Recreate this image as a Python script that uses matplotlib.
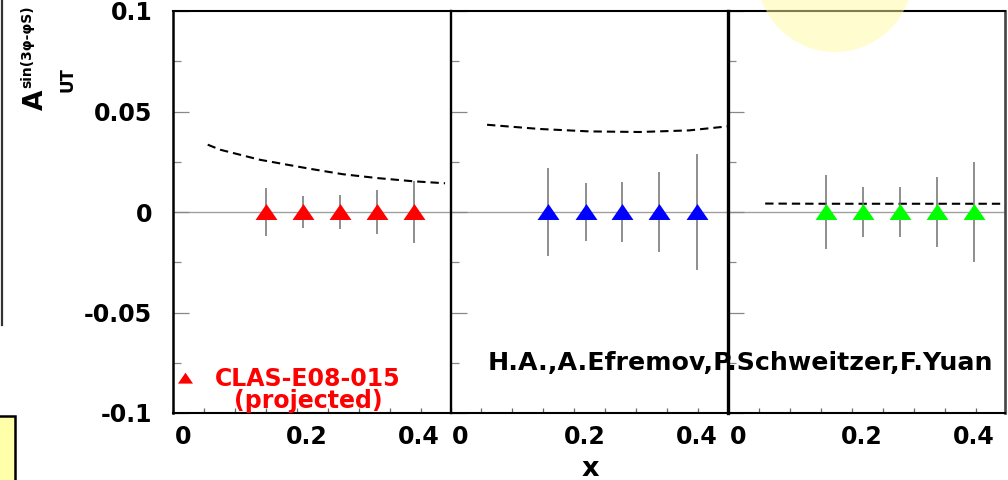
import matplotlib
matplotlib.use("Agg")
import matplotlib.pyplot as plt
from matplotlib.patches import Ellipse, Rectangle
from matplotlib.lines import Line2D
from matplotlib.ticker import MultipleLocator
from matplotlib.transforms import ScaledTranslation

plt.rcParams["font.family"] = ["DejaVu Sans"]

# Projected sin(3phi-phiS) asymmetry points, one panel per colour
x_red = [0.150, 0.210, 0.270, 0.329, 0.389]
x_blue = [0.158, 0.218, 0.277, 0.337, 0.397]
x_green = [0.158, 0.218, 0.277, 0.337, 0.397]
a_red = [0.0, 0.0, 0.0, 0.0, 0.0]
a_blue = [0.0, 0.0, 0.0, 0.0, 0.0]
a_green = [0.0, 0.0, 0.0, 0.0, 0.0]
err_red = [0.0117, 0.0080, 0.0083, 0.0108, 0.0155]
err_blue = [0.0221, 0.0143, 0.0147, 0.0197, 0.0290]
err_green = [0.0182, 0.0122, 0.0126, 0.0172, 0.0251]

# Model predictions (dashed curves)
model_x_red = [0.056, 0.076, 0.140, 0.221, 0.274, 0.329, 0.387, 0.439]
model_y_red = [0.0335, 0.0310, 0.0260, 0.0215, 0.0188, 0.0169, 0.0153, 0.0143]
model_x_blue = [0.059, 0.144, 0.224, 0.305, 0.385, 0.447]
model_y_blue = [0.0434, 0.0413, 0.0401, 0.0398, 0.0406, 0.0426]
model_x_green = [0.060, 0.150, 0.250, 0.350, 0.447]
model_y_green = [0.0042, 0.0041, 0.0041, 0.0041, 0.0041]

x_ticks = [0.0, 0.2, 0.4]
x_ticklabels = ["0", "0.2", "0.4"]
y_ticks = [-0.1, -0.05, 0, 0.05, 0.1]
y_ticklabels = ["-0.1", "-0.05", "0", "0.05", "0.1"]

W, H = 1008, 480


def fx(p):
    return p / W


def fy(p):
    return 1 - p / H


# flat, wide triangle marker (ROOT style 22)
TRI = [(-11, -7.5), (11, -7.5), (0, 8.5), (-11, -7.5)]

fig = plt.figure(figsize=(W / 100, H / 100), dpi=100)
fig.patch.set_facecolor("white")

panels = [
    (173, x_red, a_red, err_red, model_x_red, model_y_red, "#ff0000", 1.8),
    (450.5, x_blue, a_blue, err_blue, model_x_blue, model_y_blue, "#0000ff", 1.7),
    (728, x_green, a_green, err_green, model_x_green, model_y_green, "#00ff00", 2.4),
]

axes = []
for i, (left, xs, ys, es, mx, my, col, lw_left) in enumerate(panels):
    ax = fig.add_axes([fx(left), fy(413), 277 / W, 402 / H])
    ax.set_facecolor("none")
    ax.set_xlim(0, 0.447)
    ax.set_ylim(-0.1, 0.1)

    ax.axhline(0, color="#a0a0a0", lw=1.0, zorder=1)
    ax.plot(mx, my, color="black", lw=1.5, ls=(0, (4, 2.4)), zorder=2)
    ax.errorbar(xs, ys, yerr=es, fmt="none", ecolor="#707070", elinewidth=1.1,
                capsize=0, zorder=3)
    ax.plot(xs, ys, ls="none", marker=TRI, ms=15.8, color=col,
            markeredgewidth=0, zorder=4)

    for s in ax.spines.values():
        s.set_color("black")
        s.set_linewidth(1.5)
    ax.spines["left"].set_linewidth(lw_left)
    if i < 2:
        ax.spines["right"].set_visible(False)
    else:
        ax.spines["right"].set_color("#444444")
        ax.spines["right"].set_linewidth(1.9)

    ax.yaxis.set_minor_locator(MultipleLocator(0.025))
    ax.xaxis.set_minor_locator(MultipleLocator(0.05))
    ax.set_xticks(x_ticks, x_ticklabels)
    ax.set_yticks(y_ticks, y_ticklabels)
    ax.tick_params(axis="y", which="major", direction="in", length=11.5,
                   width=0.9, color="#888888", pad=15,
                   labelsize=17, labelleft=(i == 0))
    ax.tick_params(axis="y", which="minor", direction="in", length=5.8,
                   width=0.9, color="#888888")
    ax.tick_params(axis="x", which="both", direction="in", length=3.6,
                   width=0.9, color="#666666", pad=9, labelsize=17)
    for lab in ax.get_yticklabels():
        lab.set_fontweight("bold")
    for lab, dx in zip(ax.get_xticklabels(), [10, 10, -2]):
        lab.set_fontweight("bold")
        lab.set_transform(lab.get_transform()
                          + ScaledTranslation(dx / 100, 0, fig.dpi_scale_trans))
    axes.append(ax)

ax1, ax2, ax3 = axes

# legend entry for the projected data
ax1.plot([0.045], [0.087], transform=ax1.transAxes, ls="none", marker=TRI,
         ms=10.8, color="#ff0000", markeredgewidth=0, clip_on=False)
fig.text(fx(308), fy(390), "CLAS-E08-015\n(projected)", color="#ff0000",
         fontsize=17, fontweight="bold", ha="center", va="center",
         multialignment="center", linespacing=0.86)

# author credit sits under the panel 2/3 divider
ax2.text(fx(488), fy(370), "H.A.,A.Efremov,P.Schweitzer,F.Yuan",
         transform=fig.transFigure, fontsize=18.2, fontweight="bold",
         ha="left", va="baseline", clip_on=False, zorder=0)

# axis titles
fig.text(fx(590), fy(476), "x", fontsize=19.5, fontweight="bold",
         ha="center", va="baseline")
fig.text(fx(49), fy(100), "A", fontsize=19, fontweight="bold",
         rotation=90, ha="right", va="center")
fig.text(fx(34), fy(47), "sin(3φ-φS)", fontsize=10, fontweight="bold",
         rotation=90, ha="right", va="center")
fig.text(fx(76), fy(79.5), "UT", fontsize=12, fontweight="bold",
         rotation=90, ha="right", va="center")

# slide decorations around the plot
fig.add_artist(Line2D([fx(1.5), fx(1.5)], [fy(0), fy(325)], color="#333333",
                      lw=1.6, transform=fig.transFigure))
fig.add_artist(Rectangle((fx(-10), fy(490)), fx(24.5), (490 - 416.5) / H,
                         facecolor="#ffffaa", edgecolor="black", lw=1.8,
                         transform=fig.transFigure))
fig.add_artist(Ellipse((fx(835), fy(-26)), 2 * 78 / W, 2 * 78 / H,
                       facecolor="#fffaa0", edgecolor="none", alpha=0.5,
                       transform=fig.transFigure, zorder=10))

fig.savefig("out.png", dpi=100, facecolor="white")
